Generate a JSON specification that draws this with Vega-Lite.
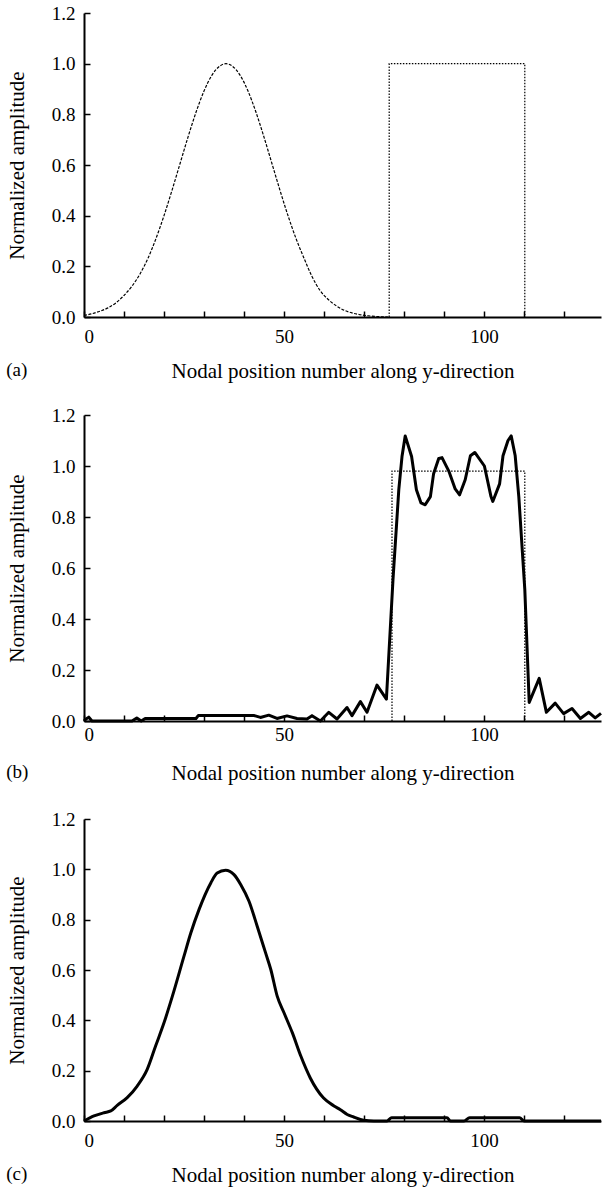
{
  "$schema": "https://vega.github.io/schema/vega-lite/v6.json",
  "autosize": {"type": "pad"},
  "padding": {"left": 6, "top": 4, "right": 0, "bottom": 5},
  "background": "white",
  "spacing": 98,
  "bounds": "flush",
  "config": {
    "view": {"stroke": null},
    "axis": {
      "labelFont": "Liberation Serif, Times New Roman, serif", "titleFont": "Liberation Serif, Times New Roman, serif",
      "labelFontSize": 19, "titleFontSize": 21, "titleFontWeight": "normal",
      "labelColor": "black", "titleColor": "black",
      "domainColor": "black", "domainWidth": 2,
      "tickColor": "black", "tickWidth": 1.5, "grid": false
    },
    "title": {"font": "Liberation Serif, Times New Roman, serif", "fontSize": 19, "fontWeight": "normal", "color": "black"}
  },
  "datasets": {
    "a_g": [
      {"x": 0, "y": 0.006}, {"x": 2, "y": 0.013}, {"x": 4, "y": 0.023}, {"x": 6, "y": 0.036},
      {"x": 8, "y": 0.056}, {"x": 10, "y": 0.085}, {"x": 12, "y": 0.122}, {"x": 14, "y": 0.17},
      {"x": 16, "y": 0.232}, {"x": 18, "y": 0.31}, {"x": 20, "y": 0.4}, {"x": 22, "y": 0.5},
      {"x": 24, "y": 0.605}, {"x": 26, "y": 0.71}, {"x": 28, "y": 0.808}, {"x": 30, "y": 0.892},
      {"x": 32, "y": 0.955}, {"x": 34, "y": 0.991}, {"x": 35.5, "y": 1.0}, {"x": 37, "y": 0.991},
      {"x": 39, "y": 0.955}, {"x": 41, "y": 0.892}, {"x": 43, "y": 0.808}, {"x": 45, "y": 0.71},
      {"x": 47, "y": 0.605}, {"x": 49, "y": 0.5}, {"x": 51, "y": 0.4}, {"x": 53, "y": 0.31},
      {"x": 55, "y": 0.232}, {"x": 57, "y": 0.16}, {"x": 59, "y": 0.105}, {"x": 61, "y": 0.07},
      {"x": 63, "y": 0.045}, {"x": 65, "y": 0.027}, {"x": 67, "y": 0.016}, {"x": 69, "y": 0.009},
      {"x": 71, "y": 0.005}, {"x": 73, "y": 0.002}, {"x": 76, "y": 0.0}
    ],
    "a_r": [
      {"i": 0, "x": 76.3, "y": 0}, {"i": 1, "x": 76.3, "y": 1.0},
      {"i": 2, "x": 110.2, "y": 1.0}, {"i": 3, "x": 110.2, "y": 0}
    ],
    "b_r": [
      {"i": 0, "x": 77, "y": 0}, {"i": 1, "x": 77, "y": 0.98},
      {"i": 2, "x": 110.2, "y": 0.98}, {"i": 3, "x": 110.2, "y": 0}
    ],
    "b_s": [
      {"x": 0, "y": 0.0}, {"x": 0.5, "y": 0.008}, {"x": 1.2, "y": 0.015}, {"x": 2, "y": 0.0},
      {"x": 12, "y": 0.0}, {"x": 13.2, "y": 0.012}, {"x": 14.3, "y": 0.0}, {"x": 15.3, "y": 0.01},
      {"x": 28, "y": 0.01}, {"x": 28.6, "y": 0.022}, {"x": 42.4, "y": 0.022}, {"x": 44.1, "y": 0.014},
      {"x": 46.2, "y": 0.023}, {"x": 48.25, "y": 0.01}, {"x": 50.75, "y": 0.02}, {"x": 53.25, "y": 0.01},
      {"x": 55.75, "y": 0.008}, {"x": 57, "y": 0.021}, {"x": 59.1, "y": 0.0}, {"x": 61.2, "y": 0.034},
      {"x": 63.25, "y": 0.008}, {"x": 65.75, "y": 0.053}, {"x": 67, "y": 0.021}, {"x": 69.1, "y": 0.076},
      {"x": 70.75, "y": 0.034}, {"x": 73.25, "y": 0.141}, {"x": 75.6, "y": 0.086}, {"x": 77.25, "y": 0.555},
      {"x": 78.7, "y": 0.907}, {"x": 79.5, "y": 1.037}, {"x": 80.3, "y": 1.118}, {"x": 81.9, "y": 1.037},
      {"x": 83.1, "y": 0.907}, {"x": 84.25, "y": 0.855}, {"x": 85.3, "y": 0.848}, {"x": 86.6, "y": 0.88},
      {"x": 87.4, "y": 0.97}, {"x": 88.7, "y": 1.03}, {"x": 89.5, "y": 1.033}, {"x": 91.2, "y": 0.98},
      {"x": 92.8, "y": 0.91}, {"x": 93.9, "y": 0.887}, {"x": 95.3, "y": 0.946}, {"x": 96.6, "y": 1.04},
      {"x": 97.7, "y": 1.053}, {"x": 100.1, "y": 1.0}, {"x": 101.75, "y": 0.88}, {"x": 102.2, "y": 0.861},
      {"x": 103.9, "y": 0.93}, {"x": 104.75, "y": 1.04}, {"x": 106, "y": 1.1}, {"x": 106.8, "y": 1.118},
      {"x": 107.8, "y": 1.04}, {"x": 108.7, "y": 0.88}, {"x": 110.2, "y": 0.516}, {"x": 111.3, "y": 0.073},
      {"x": 113.8, "y": 0.167}, {"x": 115.6, "y": 0.034}, {"x": 117.8, "y": 0.07}, {"x": 119.9, "y": 0.029},
      {"x": 122, "y": 0.049}, {"x": 124.1, "y": 0.01}, {"x": 126.2, "y": 0.034}, {"x": 127.8, "y": 0.012},
      {"x": 129.25, "y": 0.03}
    ],
    "c_s": [
      {"x": 0, "y": 0.0}, {"x": 2.5, "y": 0.02}, {"x": 5, "y": 0.033}, {"x": 6.7, "y": 0.04},
      {"x": 8.3, "y": 0.062}, {"x": 10.8, "y": 0.093}, {"x": 13.3, "y": 0.139}, {"x": 15.8, "y": 0.205},
      {"x": 17.9, "y": 0.298}, {"x": 20, "y": 0.39}, {"x": 22.1, "y": 0.496}, {"x": 25, "y": 0.655},
      {"x": 26.7, "y": 0.747}, {"x": 28.75, "y": 0.84}, {"x": 31.7, "y": 0.946}, {"x": 33.3, "y": 0.985},
      {"x": 35.4, "y": 0.996}, {"x": 37.5, "y": 0.979}, {"x": 39.2, "y": 0.939}, {"x": 41.25, "y": 0.873},
      {"x": 43.3, "y": 0.774}, {"x": 45.4, "y": 0.668}, {"x": 46.7, "y": 0.602}, {"x": 48.3, "y": 0.496},
      {"x": 50, "y": 0.43}, {"x": 52.1, "y": 0.35}, {"x": 54.2, "y": 0.258}, {"x": 56.6, "y": 0.17},
      {"x": 59.9, "y": 0.091}, {"x": 62.5, "y": 0.06}, {"x": 64.1, "y": 0.045}, {"x": 65.8, "y": 0.026},
      {"x": 67.4, "y": 0.016}, {"x": 69.9, "y": 0.003}, {"x": 72.5, "y": 0.0}, {"x": 75.75, "y": 0.0},
      {"x": 76.9, "y": 0.013}, {"x": 90.75, "y": 0.013}, {"x": 91.6, "y": 0.0}, {"x": 95, "y": 0.0},
      {"x": 96.4, "y": 0.013}, {"x": 108.9, "y": 0.013}, {"x": 110, "y": 0.0}, {"x": 129.25, "y": 0.0}
    ]
  },
  "vconcat": [
    {
      "width": 517, "height": 304,
      "title": {"text": "(a)", "orient": "bottom", "anchor": "start", "frame": "bounds", "dy": -24},
      "layer": [
        {
          "data": {"name": "a_g"},
          "mark": {"type": "line", "color": "black", "strokeWidth": 1.2, "strokeDash": [3, 1.5], "interpolate": "monotone"},
          "encoding": {
            "x": {"field": "x", "type": "quantitative", "scale": {"domain": [0, 129.25], "nice": false},
              "axis": {"title": "Nodal position number along y-direction", "values": [0,10,20,30,40,50,60,70,80,90,100,110,120],
                "labelExpr": "datum.value % 50 == 0 ? datum.label : ''", "tickSize": -6, "labelPadding": 16, "titlePadding": 14}},
            "y": {"field": "y", "type": "quantitative", "scale": {"domain": [0, 1.2], "nice": false},
              "axis": {"title": "Normalized amplitude", "values": [0,0.1,0.2,0.3,0.4,0.5,0.6,0.7,0.8,0.9,1.0,1.1,1.2],
                "labelExpr": "round(datum.value*10) % 2 == 0 ? format(datum.value, '.1f') : ''", "tickSize": -6, "labelPadding": 15, "titlePadding": 24}}
          }
        },
        {
          "data": {"name": "a_r"},
          "mark": {"type": "line", "color": "black", "strokeWidth": 1.2, "strokeDash": [1.5, 1.5]},
          "encoding": {
            "x": {"field": "x", "type": "quantitative"},
            "y": {"field": "y", "type": "quantitative"},
            "order": {"field": "i"}
          }
        },
        {
          "mark": {"type": "rule", "color": "black", "strokeWidth": 2},
          "encoding": {"y": {"datum": 1.2}}
        }
      ]
    },
    {
      "width": 517, "height": 306,
      "title": {"text": "(b)", "orient": "bottom", "anchor": "start", "frame": "bounds", "dy": -24},
      "layer": [
        {
          "data": {"name": "b_r"},
          "mark": {"type": "line", "color": "black", "strokeWidth": 1.2, "strokeDash": [1.5, 1.5]},
          "encoding": {
            "x": {"field": "x", "type": "quantitative", "scale": {"domain": [0, 129.25], "nice": false},
              "axis": {"title": "Nodal position number along y-direction", "values": [0,10,20,30,40,50,60,70,80,90,100,110,120],
                "labelExpr": "datum.value % 50 == 0 ? datum.label : ''", "tickSize": -6, "labelPadding": 10, "titlePadding": 18}},
            "y": {"field": "y", "type": "quantitative", "scale": {"domain": [0, 1.2], "nice": false},
              "axis": {"title": "Normalized amplitude", "values": [0,0.1,0.2,0.3,0.4,0.5,0.6,0.7,0.8,0.9,1.0,1.1,1.2],
                "labelExpr": "round(datum.value*10) % 2 == 0 ? format(datum.value, '.1f') : ''", "tickSize": -6, "labelPadding": 15, "titlePadding": 24}},
            "order": {"field": "i"}
          }
        },
        {
          "data": {"name": "b_s"},
          "mark": {"type": "line", "color": "black", "strokeWidth": 3, "strokeJoin": "round"},
          "encoding": {
            "x": {"field": "x", "type": "quantitative"},
            "y": {"field": "y", "type": "quantitative"}
          }
        },
        {
          "mark": {"type": "rule", "color": "black", "strokeWidth": 2},
          "encoding": {"y": {"datum": 1.2}}
        }
      ]
    },
    {
      "width": 517, "height": 302,
      "title": {"text": "(c)", "orient": "bottom", "anchor": "start", "frame": "bounds", "dy": -24},
      "layer": [
        {
          "data": {"name": "c_s"},
          "mark": {"type": "line", "color": "black", "strokeWidth": 3, "strokeJoin": "round", "interpolate": "monotone"},
          "encoding": {
            "x": {"field": "x", "type": "quantitative", "scale": {"domain": [0, 129.25], "nice": false},
              "axis": {"title": "Nodal position number along y-direction", "values": [0,10,20,30,40,50,60,70,80,90,100,110,120],
                "labelExpr": "datum.value % 50 == 0 ? datum.label : ''", "tickSize": -6, "labelPadding": 16, "titlePadding": 14}},
            "y": {"field": "y", "type": "quantitative", "scale": {"domain": [0, 1.2], "nice": false},
              "axis": {"title": "Normalized amplitude", "values": [0,0.1,0.2,0.3,0.4,0.5,0.6,0.7,0.8,0.9,1.0,1.1,1.2],
                "labelExpr": "round(datum.value*10) % 2 == 0 ? format(datum.value, '.1f') : ''", "tickSize": -6, "labelPadding": 15, "titlePadding": 24}}
          }
        },
        {
          "mark": {"type": "rule", "color": "black", "strokeWidth": 2},
          "encoding": {"y": {"datum": 1.2}}
        }
      ]
    }
  ]
}
